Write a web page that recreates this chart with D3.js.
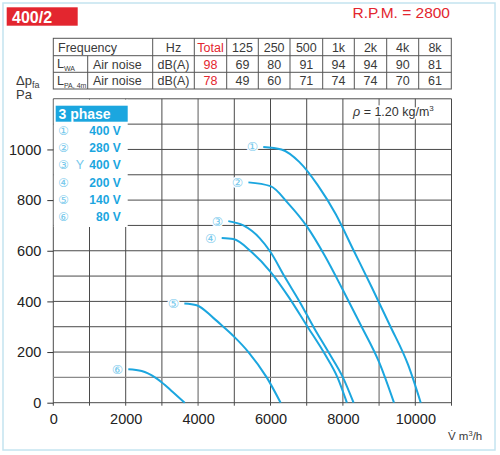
<!DOCTYPE html>
<html><head><meta charset="utf-8">
<script src="https://cdn.jsdelivr.net/npm/d3@7"></script>
<style>
body{margin:0;background:#fff;}
svg{display:block;}
</style></head>
<body><svg id="c" width="500" height="455"></svg>
<script>
// ---- data ----
const freqLabels = ["Hz","Total","125","250","500","1k","2k","4k","8k"];
const lwaValues  = ["dB(A)","98","69","80","91","94","94","90","81"];
const lpaValues  = ["dB(A)","78","49","60","71","74","74","70","61"];
const xTicks = [0,2000,4000,6000,8000,10000];
const yTicks = [0,200,400,600,800,1000];
const curveIds = ["①","②","③","④","⑤","⑥"];
const voltages = ["400 V","280 V","400 V","200 V","140 V","80 V"];
const curve1 = [[5800,1010],[6300,1000],[6800,950],[7300,860],[7800,745],[8300,600],[8800,455],[9300,305],[9800,150],[10150,0]];
const curve2 = [[5390,870],[6000,855],[6500,785],[7000,697],[7500,580],[8000,445],[8500,305],[9000,160],[9411,0]];
const curve3 = [[4834,717],[5250,700],[5700,650],[6000,595],[6400,495],[6800,400],[7200,296],[7600,200],[8000,100],[8295,0]];
const curve4 = [[4652,650],[4972,646],[5500,592],[6000,517],[6500,418],[7000,305],[7500,192],[7850,100],[8110,0]];
const curve5 = [[3620,392],[3961,385],[4420,335],[4697,300],[5000,260],[5390,200],[5895,100],[6280,0]];
const curve6 = [[2072,132],[2442,125],[2809,100],[3000,80],[3300,42],[3630,0]];
const curves = [curve1,curve2,curve3,curve4,curve5,curve6];

// ---- drawing ----
const svg = d3.select("#c");
const narrow = "'Liberation Sans Narrow','Arial Narrow','Liberation Sans',sans-serif";
const sans = "'Liberation Sans',Arial,sans-serif";
const red = "#e3262f", blue = "#1ba6df", lightBlue = "#74c8ec", txt = "#3a3a3a";

// outer frame
svg.append("rect").attr("x",3).attr("y",3).attr("width",492).attr("height",447)
  .attr("fill","none").attr("stroke","#c4e4f0").attr("stroke-width",1.5);

// title box
svg.append("rect").attr("x",6.7).attr("y",7.3).attr("width",71).attr("height",18.4).attr("fill",red);
svg.append("text").attr("x",12).attr("y",22.5).text("400/2")
  .attr("font-family",sans).attr("font-size",16).attr("font-weight","bold").attr("fill","#fff");
svg.append("text").attr("x",450).attr("y",18).attr("text-anchor","end").text("R.P.M. = 2800")
  .attr("font-family",sans).attr("font-size",15.5).attr("fill",red);

// noise table
const colX = [53.3,152.7,194.3,226.7,258.3,290,322.7,354.3,386.7,418.7,451.3];
const rowY = [38.3,55.7,72.3,89];
const tbl = svg.append("g").attr("font-family",narrow).attr("font-size",12.5).attr("fill",txt);
tbl.append("rect").attr("x",colX[0]).attr("y",rowY[0]).attr("width",colX[10]-colX[0]).attr("height",rowY[3]-rowY[0])
  .attr("fill","none").attr("stroke","#555");
rowY.slice(1,3).forEach(y=>tbl.append("line").attr("x1",colX[0]).attr("x2",colX[10]).attr("y1",y).attr("y2",y).attr("stroke","#555"));
colX.slice(1,10).forEach(x=>tbl.append("line").attr("x1",x).attr("x2",x).attr("y1",rowY[0]).attr("y2",rowY[3]).attr("stroke","#555"));
tbl.append("line").attr("x1",87.7).attr("x2",87.7).attr("y1",rowY[1]).attr("y2",rowY[3]).attr("stroke","#555");
const rows = [freqLabels,lwaValues,lpaValues];
rows.forEach((r,ri)=>{
  const yc = (rowY[ri]+rowY[ri+1])/2 + 4.5;
  r.forEach((v,ci)=>{
    tbl.append("text").attr("x",(colX[ci+1]+colX[ci+2])/2).attr("y",yc).attr("text-anchor","middle")
      .attr("fill",ci===1?red:txt).text(v);
  });
});
tbl.append("text").attr("x",58).attr("y",(rowY[0]+rowY[1])/2+4.5).text("Frequency");
[["WA",1],["PA, 4m",2]].forEach(([sub,ri])=>{
  const t = tbl.append("text").attr("x",57).attr("y",(rowY[ri]+rowY[ri+1])/2+4);
  t.append("tspan").text("L");
  t.append("tspan").attr("font-size",7).attr("dy",3).text(sub);
  tbl.append("text").attr("x",93).attr("y",(rowY[ri]+rowY[ri+1])/2+4.5).text("Air noise");
});

// axis titles
const yt = svg.append("text").attr("x",16).attr("y",84.5).attr("font-family",sans).attr("font-size",13).attr("fill",txt);
yt.append("tspan").text("Δp");
yt.append("tspan").attr("font-size",9).attr("dy",3).text("fa");
svg.append("text").attr("x",16).attr("y",99).attr("font-family",sans).attr("font-size",13).attr("fill",txt).text("Pa");
svg.append("text").attr("x",448).attr("y",440).attr("font-family",narrow).attr("font-size",11.5).attr("fill",txt)
  .html("V&#x307; m<tspan font-size='7.5' dy='-4'>3</tspan><tspan dy='4'>/h</tspan>");

// scales
const x = d3.scaleLinear().domain([0,11000]).range([53.3,451.5]);
const y = d3.scaleLinear().domain([0,1200]).range([402.7,98.8]);

// grid
const grid = svg.append("g");
d3.range(0,11001,1000).forEach(v=>grid.append("line").attr("x1",x(v)).attr("x2",x(v)).attr("y1",y(1200)).attr("y2",y(0)+3)
  .attr("stroke",(v===4000||v===9000)?"#8a8a8a":"#4a4a4a").attr("stroke-width",(v===4000||v===9000)?1.4:1));
d3.range(0,1201,100).forEach(v=>grid.append("line").attr("x1",x(0)).attr("x2",x(11000)).attr("y1",y(v)).attr("y2",y(v))
  .attr("stroke",(v===100)?"#8a8a8a":"#4a4a4a").attr("stroke-width",v===100?1.4:1));

// axes
const yAxis = svg.append("g").attr("transform",`translate(${x(0)},0)`)
  .call(d3.axisLeft(y).tickValues(yTicks).tickSize(6).tickPadding(6).tickFormat(d3.format("d")));
const xAxis = svg.append("g").attr("transform",`translate(0,${y(0)})`)
  .call(d3.axisBottom(x).tickValues(xTicks).tickSize(0).tickPadding(11).tickFormat(d3.format("d")));
[yAxis,xAxis].forEach(a=>{
  a.select(".domain").remove();
  a.selectAll("text").attr("font-family",sans).attr("font-size",14.5).attr("fill","#222");
  a.selectAll("line").attr("stroke","#333");
});

// legend
svg.append("rect").attr("x",x(0)+0.5).attr("y",y(1200)+0.8).attr("width",127.7-x(0)-0.5).attr("height",227-y(1200)-0.8).attr("fill","#fff");
svg.append("rect").attr("x",55.7).attr("y",105.7).attr("width",72).attr("height",16).attr("fill",blue);
svg.append("text").attr("x",58.5).attr("y",118.5).text("3 phase").attr("font-family",narrow)
  .attr("font-size",14).attr("font-weight","bold").attr("fill","#fff");
const legY = [130,147.3,164.8,182.1,199.2,216.3];
voltages.forEach((v,i)=>{
  svg.append("text").attr("x",63.3).attr("y",legY[i]+4.5).attr("text-anchor","middle").text(curveIds[i])
    .attr("font-family","'DejaVu Sans',sans-serif").attr("font-size",12).attr("fill",lightBlue);
  svg.append("text").attr("x",120.7).attr("y",legY[i]+4.5).attr("text-anchor","end").text(v)
    .attr("font-family",narrow).attr("font-size",12).attr("font-weight","bold").attr("fill",blue);
});
svg.append("text").attr("x",80).attr("y",legY[2]+4.5).attr("text-anchor","middle").text("Y")
  .attr("font-family",narrow).attr("font-size",12.5).attr("fill",lightBlue);

// density note
svg.append("text").attr("x",353).attr("y",116).attr("font-family",sans).attr("font-size",12.5).attr("fill","#333")
  .attr("stroke","#fff").attr("stroke-width",3).attr("paint-order","stroke")
  .html("<tspan font-style='italic'>ρ</tspan> = 1.20 kg/m<tspan font-size='8' dy='-5'>3</tspan>");

// curves
const line = d3.line().x(d=>x(d[0])).y(d=>y(d[1])).curve(d3.curveMonotoneX);
curves.forEach((c,i)=>{
  svg.append("path").attr("d",line(c)).attr("fill","none").attr("stroke",blue).attr("stroke-width",2);
  svg.append("text").attr("x",x(c[0][0])-11).attr("y",y(c[0][1])+4.5).attr("text-anchor","middle").text(curveIds[i])
    .attr("font-family","'DejaVu Sans',sans-serif").attr("font-size",12.5).attr("fill",lightBlue)
    .attr("stroke","#fff").attr("stroke-width",3).attr("paint-order","stroke");
});
</script></body></html>
